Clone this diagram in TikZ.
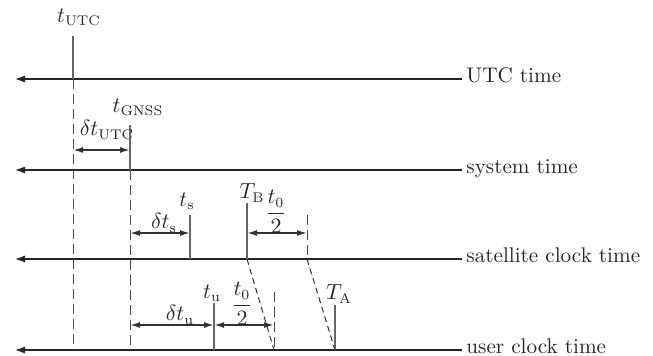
\documentclass[tikz,border=0pt]{standalone}
\usepackage{amsmath,amssymb}
\usepackage{xcolor}
\usetikzlibrary{arrows.meta, positioning}

\tikzset{
  timeline/.style={line width=1.1pt, draw=black!85, -{Latex[length=5.5pt,width=3.6pt]}},
  tick/.style={line width=0.6pt, draw=black!60},
  guide/.style={line width=0.5pt, draw=black!70, dash pattern=on 5pt off 2.5pt},
  slant/.style={line width=0.5pt, draw=black!80, dash pattern=on 3pt off 2pt},
  span/.style={line width=0.8pt, draw=black!80, {Latex[length=5pt,width=3pt]}-{Latex[length=5pt,width=3pt]}},
  axislabel/.style={anchor=base west, inner sep=2pt, yshift=-1.5pt, text=black!85},
  lbl/.style={inner sep=0pt, text=black!85}
}

\begin{document}
\begin{tikzpicture}[x=0.5pt, y=-0.5pt, font=\fontsize{10.6}{13}\selectfont]
  \useasboundingbox (0,0) rectangle (653,355);
  % the four time axes
  \foreach \y/\n/\l in {79/utc/UTC time, 170/sys/system time, 259/sat/satellite clock time, 350/usr/user clock time}{
    \coordinate (\n-l) at (14,\y);
    \coordinate (\n-r) at (462,\y);
    \node[axislabel] (\n) at (\n-r) {\l};
    \draw[timeline] (\n-r) -- (\n-l);
  }
  % epochs
  \coordinate (tutc) at (73,36);
  \coordinate (tgnss) at (130,125);
  \coordinate (ts) at (190,215);
  \coordinate (tb) at (247,203);
  \coordinate (tb2) at (307,215);
  \coordinate (tu) at (214,303);
  \coordinate (tu2) at (274,292);
  \coordinate (ta) at (335,305);
  \draw[tick] (tutc) -- (tutc |- utc-l);
  \draw[guide] (tutc |- utc-l) -- (tutc |- usr-l);
  \draw[tick] (tgnss) -- (tgnss |- sys-l);
  \draw[guide] (tgnss |- sys-l) -- (tgnss |- usr-l);
  \draw[tick] (ts) -- (ts |- sat-l);
  \draw[tick] (tb) -- (tb |- sat-l);
  \draw[guide] (tb2) -- (tb2 |- sat-l);
  \draw[tick] (tu) -- (tu |- usr-l);
  \draw[guide] (tu2) -- (tu2 |- usr-l);
  \draw[tick] (ta) -- (ta |- usr-l);
  % signal paths
  \draw[slant] (tb |- sat-l) -- (tu2 |- usr-l);
  \draw[slant] (tb2 |- sat-l) -- (ta |- usr-l);
  % offsets
  \draw[span] (tutc |- 0,150) -- (tgnss |- 0,150);
  \draw[span] (tgnss |- 0,233) -- (ts |- 0,233);
  \draw[span] (tb |- 0,233) -- (tb2 |- 0,233);
  \draw[span] (tgnss |- 0,325) -- (tu |- 0,325);
  \draw[span] (tu |- 0,325) -- (tu2 |- 0,325);
  % labels
  \node[lbl] (tutc-l) at (79,17) {$t_{\mathrm{UTC}}$};
  \node[lbl] (tgnss-l) at (138,107) {$t_{\mathrm{GNSS}}$};
  \node[lbl] (dutc-l) at (107,130) {$\delta t_{\mathrm{UTC}}$};
  \node[lbl] (ts-l) at (187,201) {$t_{\mathrm{s}}$};
  \node[lbl] (dts-l) at (164,223) {$\delta t_{\mathrm{s}}$};
  \node[lbl] (tb-l) at (252,193) {$T_{\mathrm{B}}$};
  \node[lbl] (half1-l) at (276,212) {$\dfrac{t_0}{2}$};
  \node[lbl] (tu-l) at (212,293) {$t_{\mathrm{u}}$};
  \node[lbl] (dtu-l) at (180,315) {$\delta t_{\mathrm{u}}$};
  \node[lbl] (half2-l) at (242,304) {$\dfrac{t_0}{2}$};
  \node[lbl] (ta-l) at (339,294) {$T_{\mathrm{A}}$};
\end{tikzpicture}
\end{document}
